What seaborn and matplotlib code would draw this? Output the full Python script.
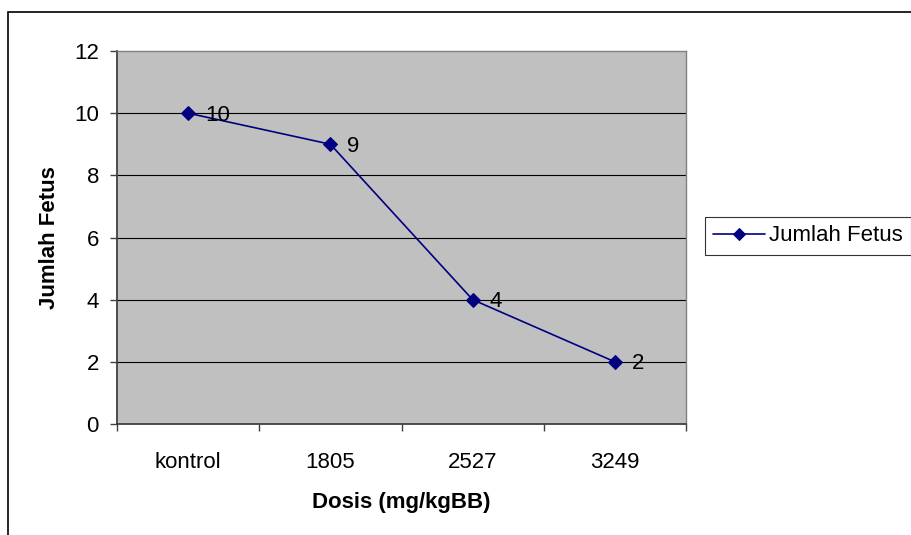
import matplotlib
matplotlib.use("Agg")
import matplotlib.pyplot as plt
import seaborn as sns
import pandas as pd
from matplotlib.patches import Rectangle

categories = ["kontrol", "1805", "2527", "3249"]
values = [10, 9, 4, 2]
series_name = "Jumlah Fetus"
yticks = [0, 2, 4, 6, 8, 10, 12]

sns.set_theme(style="white")
plt.rcParams['font.family'] = ['Liberation Sans', 'DejaVu Sans']

df = pd.DataFrame({"Dosis": categories, "Jumlah": values, "Seri": series_name})

fig = plt.figure(figsize=(9.11, 5.35), dpi=100)
W, H = 911, 535
ax = fig.add_axes([117 / W, 1 - 424 / H, (686 - 117) / W, (424 - 51) / H])
ax.set_facecolor("#C0C0C0")

sns.lineplot(data=df, x="Dosis", y="Jumlah", hue="Seri", palette=["#000080"],
             marker="D", markersize=7.5, linewidth=1.2, markeredgecolor="#000080",
             sort=False, ax=ax)

ax.set_xlim(-0.5, 3.5)
ax.set_ylim(0, 12)
ax.set_yticks(yticks)
ax.set_xticks([0, 1, 2, 3])
ax.set_xticklabels(categories)
ax.xaxis.set_minor_locator(matplotlib.ticker.FixedLocator([-0.5, 0.5, 1.5, 2.5, 3.5]))
ax.tick_params(axis="x", which="major", length=0, pad=20, labelsize=16, colors="black")
ax.tick_params(axis="x", which="minor", length=5, width=1, color="#404040", bottom=True)
ax.tick_params(axis="y", length=5, width=1, color="#404040", pad=8, labelsize=16,
               left=True, labelcolor="black")

for y in yticks[1:-1]:
    ax.axhline(y, color="#000000", linewidth=0.8, zorder=1)

for s in ["left", "bottom"]:
    ax.spines[s].set_color("#404040")
    ax.spines[s].set_linewidth(1.3)
for s in ["top", "right"]:
    ax.spines[s].set_color("#808080")
    ax.spines[s].set_linewidth(1.0)

for i, v in enumerate(values):
    ax.annotate(str(v), (i, v), xytext=(12, -1.5), textcoords="offset points",
                fontsize=16, color="black", va="center", ha="left")

ax.set_xlabel("Dosis (mg/kgBB)", fontsize=16, fontweight="bold", labelpad=14, color="black")
ax.set_ylabel("Jumlah Fetus", fontsize=16, fontweight="bold", labelpad=10, color="black")

leg = ax.legend(loc="upper left", bbox_to_anchor=(705 / W, 1 - 217 / H),
                bbox_transform=fig.transFigure, frameon=True, fancybox=False,
                fontsize=16, handlelength=2.3, handletextpad=0.18,
                borderpad=0.38, borderaxespad=0)
leg.get_frame().set_edgecolor("black")
leg.get_frame().set_linewidth(0.8)
for t in leg.get_texts():
    t.set_color("black")
for h in leg.legend_handles:
    h.set_markersize(6)

fig.patches.append(Rectangle((8 / W, -0.1), 1.2, 1 - 12 / H + 0.1,
                             transform=fig.transFigure, fill=False,
                             edgecolor="black", linewidth=1.2))

fig.savefig("out.png", dpi=100)
